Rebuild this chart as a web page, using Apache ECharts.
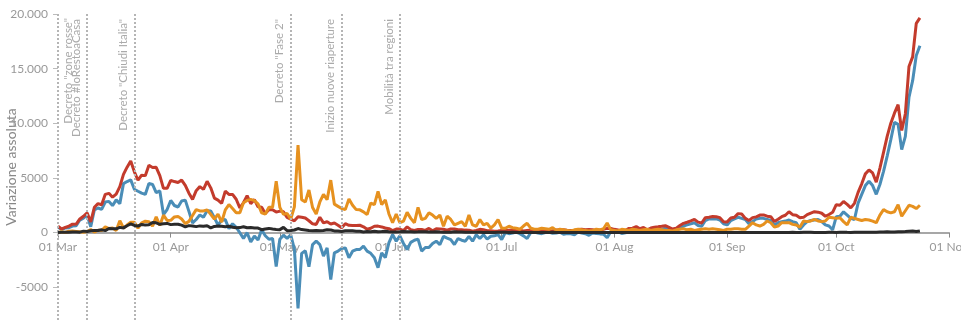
<!DOCTYPE html>
<html>
<head>
<meta charset="utf-8">
<script src="https://cdn.jsdelivr.net/npm/echarts@6/dist/echarts.min.js"></script>
<style>
html,body{margin:0;padding:0;background:#fff;}
#chart{width:961px;height:326px;}
</style>
</head>
<body>
<div id="chart"></div>
<script>
// Period shown on the axis
const startDate = '2020-03-01';
const endDate = '2020-11-01';
const monthNames = ['Jan','Feb','Mar','Apr','May','Jun','Jul','Aug','Sep','Oct','Nov','Dec'];

// Tick values shown on the y axis
const yTicks = [-5000, 0, 5000, 10000, 15000, 20000];
const yMin = -8000;
const yMax = 20000;

// Series (daily values from 01 Mar to 24 Oct)
const nuoviPositivi = [
 573,335,466,587,769,778,1247,1492,1797,977,2313,2651,2547,3497,3590,3233,3526,4207,5322,5986,6557,5560,4789,5249,5210,6153,5959,5974,5217,4050,4053,
 4782,4668,4585,4805,4316,3599,3039,3836,4204,3951,4694,4092,3153,2972,2667,3786,3493,3491,3047,2256,2729,3370,2646,3021,2357,2324,1739,2091,2086,1872,
 1965,1900,1389,1221,1075,1444,1401,1327,1083,802,744,1402,888,992,789,875,675,451,813,665,642,652,669,531,300,397,584,593,516,416,355,
 178,318,321,177,518,270,197,280,283,202,379,163,346,338,301,210,329,333,251,262,224,218,122,190,296,259,175,174,126,142,
 187,201,223,235,192,208,138,193,229,276,188,234,169,114,162,230,233,249,219,190,129,282,306,252,275,255,170,212,289,386,379,
 295,239,159,190,384,402,552,347,463,259,412,481,523,574,629,479,320,403,642,845,947,1071,1210,953,878,1367,1411,1462,1444,1365,996,
 978,1326,1397,1733,1695,1297,1108,1370,1434,1597,1616,1501,1458,1008,1229,1452,1585,1907,1638,1587,1350,1392,1640,1786,1912,1869,1766,1494,1648,1851,
 2548,2499,2844,2578,2257,2677,3678,4458,5372,5724,5456,4619,5901,7332,8804,10010,10925,11705,9338,10874,15199,16079,19143,19644
];
const variazionePositivi = [
 528,258,428,443,590,620,1145,1326,1598,529,2076,2249,2116,2795,2853,2470,2989,2648,4480,4670,4821,3957,3780,3612,3491,4492,4401,3651,3815,1648,2107,
 2937,2477,2339,2886,2972,1941,880,1195,1615,1396,1996,1984,1363,675,1127,1189,355,809,486,-20,-528,-10,-851,-321,-680,256,-290,-608,-548,-3106,
 -608,-239,-525,-199,-1513,-6939,-1904,-1663,-3119,-1100,-790,-1100,-2150,-1400,-4290,-1850,-1700,-1450,-1400,-2300,-1700,-1550,-1550,-1250,-1700,-1900,-2300,-3220,-1850,-2300,-920,
 -180,-790,-300,-1000,-1550,-900,-700,-600,-1700,-1370,-1370,-1000,-790,-1100,-340,-500,-640,-1100,-550,-700,-790,-340,-790,-190,-550,-190,-600,-340,-300,-190,
 -640,0,-100,-50,50,-100,-300,-550,0,50,-50,-100,0,50,-60,-30,30,-150,-80,-120,-200,50,-50,-100,-250,-30,-80,-120,-150,-470,100,
 50,80,-80,-20,150,170,350,120,250,50,150,250,300,300,400,300,100,150,400,600,700,800,900,650,580,1100,1250,1250,1250,1150,800,
 700,1100,1250,1400,1300,1200,800,1000,1250,1300,1300,1200,1100,700,900,1000,1050,1150,1000,900,300,700,1000,1100,1150,1200,1000,700,600,250,
 1460,1500,1900,1600,1300,1200,2700,3500,4300,4700,4300,3500,4400,5600,7000,8500,10100,9900,7600,8800,12400,13900,16200,17100
];
const dimessiGuariti = [
 33,66,11,116,138,109,66,33,102,280,41,213,181,527,369,414,192,1084,415,689,943,952,408,894,1036,999,589,1434,646,1590,1109,
 1118,1431,1480,1238,819,1022,1555,2099,1979,1985,2079,1677,1224,1695,962,2072,2563,2200,1822,1822,2723,2943,3033,2922,2622,1808,1696,2317,2311,4693,
 2304,1665,1740,1225,2352,8014,3000,2800,3900,2300,1700,2800,3500,3000,4800,2600,2400,2200,2100,3070,2500,2100,2080,1900,1640,2700,2550,3770,2550,3000,1700,
 900,1700,900,1050,1850,1300,900,2300,1200,1300,1800,1600,1300,1600,580,1500,1200,700,850,1000,580,1600,700,580,1200,700,850,400,700,1200,
 400,400,580,450,400,300,600,850,400,300,300,400,350,300,450,200,300,250,200,150,250,300,250,200,150,200,300,250,350,880,250,
 200,150,300,250,200,300,250,200,250,300,200,250,300,250,200,200,150,250,300,350,250,300,200,250,300,350,300,350,300,250,200,
 300,300,350,350,300,300,600,900,700,600,750,1060,900,500,600,900,900,900,750,700,500,1060,1000,1060,1200,1060,1000,1060,1400,1350,
 1300,1350,1000,700,1400,1300,1200,1100,1200,1150,1050,900,1600,2100,1900,1800,1900,2550,1500,2000,2500,2400,2200,2500
];
const deceduti = [
 5,18,27,28,41,49,36,133,97,168,196,189,250,175,368,349,345,475,427,627,793,651,601,743,683,712,919,889,756,812,837,
 727,760,766,681,525,636,604,542,610,570,619,431,566,602,578,525,575,482,433,454,534,437,464,420,415,260,333,382,323,285,
 269,474,174,195,236,369,274,243,194,165,179,172,195,262,242,153,145,99,162,161,156,130,119,50,92,78,117,70,87,111,75,
 60,55,71,88,85,72,53,65,79,71,53,56,78,44,26,26,34,66,47,49,24,23,18,30,30,8,22,8,6,23,
 21,30,15,21,7,8,30,15,12,12,7,6,13,17,20,11,13,11,9,13,15,17,9,10,5,5,5,11,11,11,5,
 5,3,3,7,10,6,3,13,2,4,6,4,10,6,3,4,4,7,5,7,5,5,3,7,4,13,5,9,1,3,6,
 4,8,10,10,6,7,9,10,10,10,10,7,9,8,9,14,9,10,24,15,14,20,20,24,17,17,16,17,24,24,
 17,24,23,18,16,28,31,22,28,29,26,39,41,43,83,55,47,69,73,89,127,136,91,151
];

// Annotated events
const eventDates = ['2020-03-01','2020-03-09','2020-03-22','2020-05-04','2020-05-18','2020-06-03'];
const eventLabels = ['Decreto "zone rosse"','Decreto #IoRestoaCasa','Decreto "Chiudi Italia"','Decreto "Fase 2"','Inizio nuove riaperture','Mobilità tra regioni'];

// Build the day categories of the axis
const categories = [];
(function(){
  const d = new Date(startDate + 'T00:00:00Z');
  const e = new Date(endDate + 'T00:00:00Z');
  while (d <= e) {
    categories.push(d.toISOString().slice(0,10));
    d.setUTCDate(d.getUTCDate() + 1);
  }
})();

function fmtDate(s){
  return s.slice(8,10) + ' ' + monthNames[parseInt(s.slice(5,7),10)-1];
}
function isMonthStart(idx, val){ return val.slice(8,10) === '01'; }
function fmtY(v){
  if (Math.abs(v) >= 10000) {
    return String(v).replace(/\B(?=(\d{3})+(?!\d))/g, '.');
  }
  return String(v);
}

const FONT = "Lato, sans-serif";
const GRID_TOP = 14, GRID_BOTTOM = 6, H = 326;
const plotH = H - GRID_TOP - GRID_BOTTOM;
// place the x axis on the zero line
const zeroOffset = -plotH * (0 - yMin) / (yMax - yMin);

const markData = eventDates.map(function(d, i){
  return {
    xAxis: d,
    label: {
      formatter: eventLabels[i],
      position: i === 0 ? 'insideEndBottom' : 'insideEndTop',
      distance: i === 0 ? 4 : 5
    }
  };
});

const chart = echarts.init(document.getElementById('chart'), null, {renderer: 'canvas'});
chart.setOption({
  animation: false,
  backgroundColor: '#ffffff',
  textStyle: {fontFamily: FONT},
  grid: {left: 58, right: 12, top: GRID_TOP, bottom: GRID_BOTTOM, containLabel: false, outerBoundsMode: 'none'},
  xAxis: {
    type: 'category',
    data: categories,
    boundaryGap: false,
    position: 'bottom',
    offset: zeroOffset,
    axisLine: {onZero: false, lineStyle: {color: '#8a8a8a', width: 1.5}},
    axisTick: {show: true, interval: isMonthStart, length: 5, lineStyle: {color: '#8a8a8a'}},
    axisLabel: {
      interval: isMonthStart,
      formatter: fmtDate,
      color: '#999999',
      fontSize: 12,
      fontFamily: FONT,
      margin: 9,
      showMaxLabel: true,
      hideOverlap: false
    },
    splitLine: {show: false},
    z: 1
  },
  yAxis: {
    type: 'value',
    min: yMin,
    max: yMax,
    name: 'Variazione assoluta',
    nameLocation: 'middle',
    nameGap: 40,
    nameMoveOverlap: false,
    nameTextStyle: {color: '#888888', fontSize: 14, fontFamily: FONT},
    axisLine: {show: false},
    axisTick: {show: true, length: 5, customValues: yTicks, lineStyle: {color: '#bbbbbb'}},
    axisLabel: {customValues: yTicks, formatter: fmtY, color: '#999999', fontSize: 12, fontFamily: FONT, margin: 10},
    splitLine: {show: false}
  },
  series: [
    {
      name: 'Variazione totale positivi', type: 'line', data: variazionePositivi,
      showSymbol: false, symbol: 'none', lineStyle: {color: '#4a8db7', width: 3}, itemStyle: {color: '#4a8db7'}, z: 2,
      markLine: {
        silent: true, symbol: ['none','none'],
        lineStyle: {color: '#b5b5b5', type: [2,2], width: 2},
        label: {show: true, color: '#aaaaaa', fontSize: 11.5, fontFamily: FONT},
        emphasis: {disabled: true},
        data: markData
      }
    },
    {
      name: 'Nuovi positivi', type: 'line', data: nuoviPositivi,
      showSymbol: false, symbol: 'none', lineStyle: {color: '#c33b2c', width: 3}, itemStyle: {color: '#c33b2c'}, z: 3
    },
    {
      name: 'Dimessi guariti', type: 'line', data: dimessiGuariti,
      showSymbol: false, symbol: 'none', lineStyle: {color: '#e6911f', width: 3}, itemStyle: {color: '#e6911f'}, z: 4
    },
    {
      name: 'Deceduti', type: 'line', data: deceduti,
      showSymbol: false, symbol: 'none', lineStyle: {color: '#2a2a2a', width: 3}, itemStyle: {color: '#2a2a2a'}, z: 5
    }
  ]
});
</script>
</body>
</html>
